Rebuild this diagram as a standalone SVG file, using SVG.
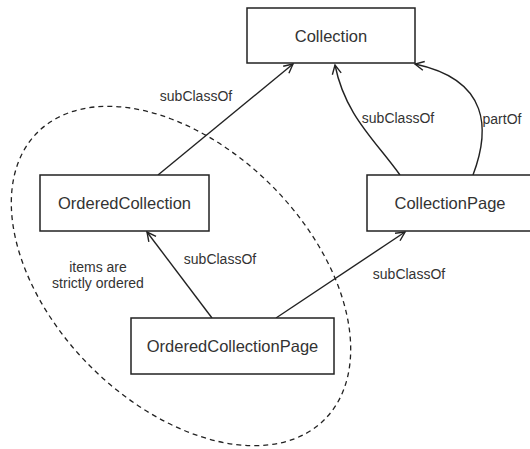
<svg xmlns="http://www.w3.org/2000/svg" width="530" height="449" viewBox="0 0 530 449">
  <defs>
    <marker id="arr" markerUnits="userSpaceOnUse" markerWidth="12" markerHeight="12" refX="10" refY="5" orient="auto" viewBox="0 0 12 10">
      <path d="M1,0.5 L10,5 L1,9.5" fill="none" stroke="#222" stroke-width="1.4"/>
    </marker>
  </defs>
  <style>
    .box { fill: #fff; stroke: #222; stroke-width: 1.5; }
    .nlabel { font-family: "Liberation Sans", Arial, sans-serif; font-size: 16.5px; fill: #333; text-anchor: middle; }
    .elabel { font-family: "Liberation Sans", Arial, sans-serif; font-size: 14px; fill: #333; text-anchor: middle; }
    .edge { fill: none; stroke: #222; stroke-width: 1.4; marker-end: url(#arr); }
    .group { fill: none; stroke: #222; stroke-width: 1.3; stroke-dasharray: 5 4; }
  </style>
  <rect width="530" height="449" fill="#fff"/>
  <g id="ordered-group">
    <ellipse class="group" cx="181" cy="276" rx="203" ry="128" transform="rotate(45 181 276)"/>
    <text class="elabel" x="98" y="272">items are</text>
    <text class="elabel" x="98" y="288">strictly ordered</text>
  </g>
  <g id="connectors">
    <path class="edge" d="M158,175 L293,64"/>
    <text class="elabel" x="196" y="101">subClassOf</text>
    <path class="edge" d="M212,318 L147,232"/>
    <text class="elabel" x="220" y="264">subClassOf</text>
    <path class="edge" d="M276,318 L405,232"/>
    <text class="elabel" x="409" y="279">subClassOf</text>
    <path class="edge" d="M400,175 C375,140 345,115 335,65"/>
    <text class="elabel" x="398" y="123">subClassOf</text>
    <path class="edge" d="M473,175 C490,130 490,80 415,64"/>
    <text class="elabel" x="502" y="124">partOf</text>
  </g>
  <g id="collection">
    <rect class="box" x="247" y="8" width="168" height="55"/>
    <text class="nlabel" x="331" y="41.5">Collection</text>
  </g>
  <g id="ordered-collection">
    <rect class="box" x="40" y="175" width="169" height="56"/>
    <text class="nlabel" x="124.5" y="209">OrderedCollection</text>
  </g>
  <g id="collection-page">
    <rect class="box" x="367" y="175" width="166" height="56"/>
    <text class="nlabel" x="450" y="209">CollectionPage</text>
  </g>
  <g id="ordered-collection-page">
    <rect class="box" x="131" y="318" width="203" height="56"/>
    <text class="nlabel" x="232.5" y="352">OrderedCollectionPage</text>
  </g>
</svg>
